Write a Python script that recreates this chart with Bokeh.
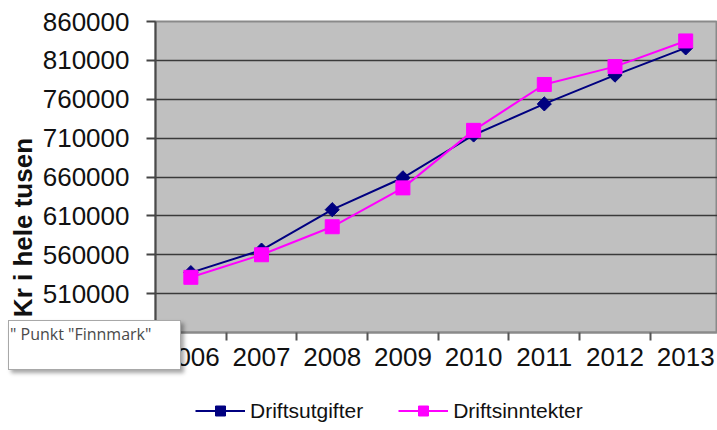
import numpy as np
from bokeh.plotting import figure
from bokeh.layouts import column
from bokeh.models import (Range1d, FixedTicker, NumeralTickFormatter, Legend,
                          LegendItem, Div)
from bokeh.embed import file_html
from bokeh.resources import INLINE

# ---- data ----
years = ["2006", "2007", "2008", "2009", "2010", "2011", "2012", "2013"]
driftsutgifter = [537000, 566000, 618000, 659000, 714000, 754000, 791000, 826000]
driftsinntekter = [531000, 560000, 596000, 646000, 720000, 779000, 802000, 835000]
y_ticks = [460000, 510000, 560000, 610000, 660000, 710000, 760000, 810000, 860000]
series_names = ["Driftsutgifter", "Driftsinntekter"]
y_title = "Kr i hele tusen"
tooltip_text = '" Punkt "Finnmark"'

xs = list(range(len(years)))
FONT = "Liberation Sans"
NAVY, PINK = "#000080", "#FF00FF"

p = figure(width=717, height=380, output_backend="svg", toolbar_location=None,
           x_range=Range1d(-0.5, 7.45), y_range=Range1d(y_ticks[0], y_ticks[-1]),
           min_border_left=155, min_border_right=0, min_border_top=21,
           min_border_bottom=48)
p.background_fill_color = "#C0C0C0"
p.border_fill_color = "white"
p.outline_line_color = "#8a8a8a"
p.outline_line_width = 2

# x axis: labels at category centres, tick marks between categories
p.xaxis.ticker = FixedTicker(ticks=xs, minor_ticks=[i - 0.5 for i in range(len(years) + 1)])
p.xaxis.major_label_overrides = {i: y for i, y in enumerate(years)}
p.xaxis.major_tick_line_color = None
p.xaxis.major_tick_out = 8
p.xaxis.major_tick_in = 0
p.xaxis.minor_tick_out = 8
p.xaxis.minor_tick_in = 0
p.xaxis.minor_tick_line_color = "#555555"
p.xaxis.minor_tick_line_width = 2
p.xaxis.axis_line_color = "#8a8a8a"
p.xaxis.axis_line_width = 2
p.xaxis.major_label_standoff = 7
p.xaxis.major_label_text_font = FONT
p.xaxis.major_label_text_font_size = "26px"
p.xaxis.major_label_text_color = "#111111"
p.xgrid.grid_line_color = None

# y axis
p.yaxis.ticker = FixedTicker(ticks=y_ticks)
p.yaxis.formatter = NumeralTickFormatter(format="0")
p.yaxis.major_tick_out = 9
p.yaxis.major_tick_in = 0
p.yaxis.major_tick_line_color = "#444444"
p.yaxis.major_tick_line_width = 2
p.yaxis.minor_tick_line_color = None
p.yaxis.axis_line_color = "#4a4a4a"
p.yaxis.axis_line_width = 2
p.yaxis.major_label_standoff = 17
p.yaxis.major_label_text_font = FONT
p.yaxis.major_label_text_font_size = "26px"
p.yaxis.major_label_text_color = "#111111"
p.yaxis.axis_label = y_title + "\u00a0" * 14
p.yaxis.axis_label_standoff = 2
p.yaxis.axis_label_text_font = FONT
p.yaxis.axis_label_text_font_size = "26px"
p.yaxis.axis_label_text_font_style = "bold"
p.yaxis.axis_label_text_color = "#111111"
p.ygrid.grid_line_color = "#3a3a3a"
p.ygrid.grid_line_width = 1.6

# series
p.line(xs, driftsutgifter, line_color=NAVY, line_width=2)
p.scatter(xs, driftsutgifter, marker="square", angle=np.pi / 4, size=10,
          fill_color=NAVY, line_color=NAVY)
p.line(xs, driftsinntekter, line_color=PINK, line_width=2)
p.scatter(xs, driftsinntekter, marker="square", size=14,
          fill_color=PINK, line_color=PINK)

# tooltip overlay seen in the picture
tip = Div(text=tooltip_text, styles={
    "position": "absolute", "left": "8px", "top": "320px",
    "width": "173px", "height": "50px", "box-sizing": "border-box",
    "background-color": "white", "border": "1px solid #a8a8a8",
    "box-shadow": "3px 3px 4px rgba(0,0,0,0.35)",
    "font-family": "Open Sans", "font-size": "16px", "color": "#4a4a4a",
    "padding": "3px 0 0 1px", "line-height": "20px", "z-index": "10",
    "white-space": "nowrap", "overflow": "hidden"})
p.elements.append(tip)

# legend strip below the chart
lg = figure(width=717, height=50, output_backend="svg", toolbar_location=None,
            x_range=Range1d(0, 1), y_range=Range1d(0, 1),
            min_border_left=0, min_border_right=0, min_border_top=0,
            min_border_bottom=0)
lg.axis.visible = False
lg.grid.visible = False
lg.outline_line_color = None
lg.background_fill_color = "white"
lg.border_fill_color = "white"
off = [-10]
l1 = lg.line(off, off, line_color=NAVY, line_width=2)
m1 = lg.scatter(off, off, marker="square", angle=np.pi / 4, size=10,
                fill_color=NAVY, line_color=NAVY)
l2 = lg.line(off, off, line_color=PINK, line_width=2)
m2 = lg.scatter(off, off, marker="square", size=14, fill_color=PINK, line_color=PINK)
legend = Legend(items=[LegendItem(label=series_names[0], renderers=[l1, m1]),
                       LegendItem(label=series_names[1], renderers=[l2, m2])],
                orientation="horizontal", location=(40, 7),
                glyph_width=50, glyph_height=25, label_standoff=5, spacing=35,
                padding=0, margin=0, border_line_color=None,
                background_fill_alpha=0, label_text_font=FONT,
                label_text_font_size="21px", label_text_color="#111111")
lg.add_layout(legend)

layout = column(p, lg, spacing=0)
open("out.html", "w").write(file_html(layout, INLINE))
